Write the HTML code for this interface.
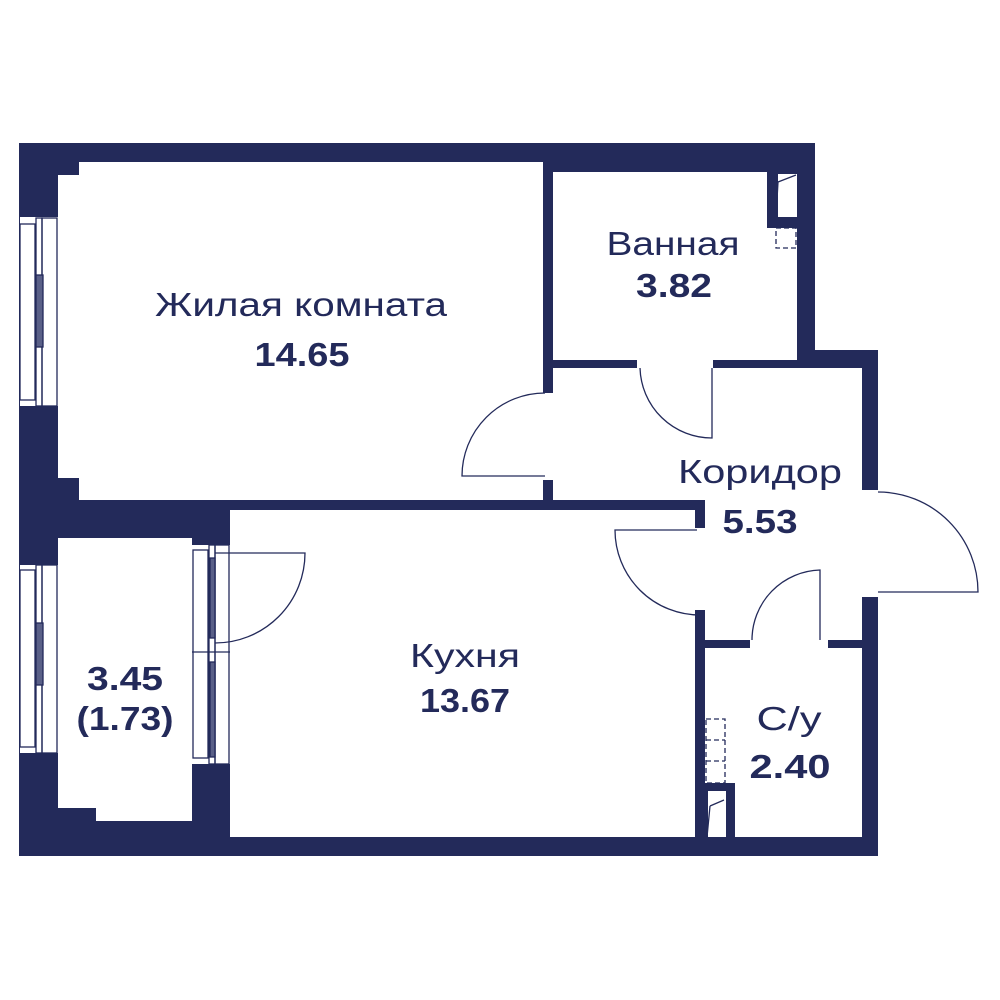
<!DOCTYPE html>
<html><head><meta charset="utf-8"><style>html,body{margin:0;padding:0;background:#fff}svg{display:block}
.t{font-family:"Liberation Sans","DejaVu Sans",sans-serif;fill:#232a5a;font-size:33px}
.b{font-weight:bold}</style></head><body>
<svg width="1000" height="1000" viewBox="0 0 1000 1000" xmlns="http://www.w3.org/2000/svg">
<g fill="#232a5a">
<path d="M19 143 H815 V350 H878 V490 H862 V597 H878 V856 H19 Z"/>
</g>
<g fill="#fff">
<!-- living -->
<path d="M79 162 H543 V500 H79 V478 H58 V175 H79 Z"/>
<!-- living door opening -->
<rect x="543" y="393" width="10" height="87"/>
<!-- bath -->
<rect x="553" y="172" width="244" height="188"/>
<rect x="637" y="358" width="76" height="12"/>
<!-- corridor -->
<path d="M553 368 H862 V640 H828 V648 H750 V640 H705 V610 H695 V528 H705 V510 H553 Z"/>
<rect x="553" y="368" width="0" height="0"/>
<rect x="860" y="490" width="20" height="107"/>
<!-- kitchen -->
<rect x="230" y="510" width="465" height="327"/>
<rect x="690" y="528" width="15" height="82"/>
<!-- wc -->
<rect x="705" y="648" width="157" height="189"/>
<rect x="750" y="638" width="78" height="12"/>
<!-- balcony -->
<path d="M58 538 H192 V821 H96 V808 H58 Z"/>
<!-- windows -->
<rect x="20" y="217" width="38" height="189"/>
<rect x="20" y="565" width="38" height="188"/>
<rect x="192" y="545" width="38" height="219"/>
</g>
<!-- restore some walls -->
<g fill="#232a5a">
<rect x="543" y="480" width="10" height="20"/>
<rect x="553" y="500" width="152" height="10"/>
<rect x="695" y="510" width="10" height="18"/>
<rect x="695" y="610" width="10" height="227"/>
<rect x="705" y="640" width="45" height="8"/>
<rect x="828" y="640" width="34" height="8"/>
<rect x="767" y="172" width="30" height="56"/>
<rect x="705" y="783" width="30" height="54"/>
</g>
<g fill="#fff"><rect x="778" y="174" width="19" height="43"/><rect x="708" y="791" width="18" height="46"/></g>
<g fill="none" stroke="#232a5a" stroke-width="1.3">
<path d="M778 182 L796 175 M778 182 L776 217"/>
<path d="M710 806 L724 800 M710 806 L707 837"/>
<rect x="776" y="228" width="20" height="20" stroke-dasharray="5,3"/>
<rect x="706" y="719" width="19" height="64" stroke-dasharray="5,3"/>
<path d="M706 740 H725 M706 761 H725" stroke-dasharray="5,3"/>
<!-- windows -->
<rect x="20" y="224" width="15" height="176"/><rect x="36" y="218" width="6" height="188"/><rect x="42" y="218" width="15" height="188"/>
<rect x="36" y="275" width="7" height="72" fill="#5a6088"/>
<rect x="20" y="570" width="15" height="177"/><rect x="36" y="565" width="6" height="188"/><rect x="42" y="565" width="15" height="188"/>
<rect x="36" y="623" width="7" height="62" fill="#5a6088"/>
<rect x="193" y="550" width="15" height="208"/><rect x="209" y="545" width="6" height="219"/><rect x="215" y="545" width="14" height="219"/>
<rect x="210" y="558" width="5" height="80" fill="#5a6088"/><rect x="210" y="662" width="5" height="95" fill="#5a6088"/>
<path d="M192 652 H230"/>
<!-- doors -->
<path d="M215 553 H305 A90 90 0 0 1 215 643"/>
<path d="M545 476 H462 A83 83 0 0 1 545 393"/>
<path d="M712 368 V438 A72 72 0 0 1 640 368"/>
<path d="M697 530 H615 A85 85 0 0 0 700 615"/>
<path d="M878 592 H978 A100 100 0 0 0 878 492"/>
<path d="M820 640 V570 A70 70 0 0 0 752 640"/>
</g>
<text class="t" x="301" y="316" text-anchor="middle" textLength="292" lengthAdjust="spacingAndGlyphs">Жилая комната</text>
<text class="t b" x="302" y="366" text-anchor="middle" textLength="95" lengthAdjust="spacingAndGlyphs">14.65</text>
<text class="t" x="673" y="255" text-anchor="middle" textLength="133" lengthAdjust="spacingAndGlyphs">Ванная</text>
<text class="t b" x="674" y="297" text-anchor="middle" textLength="76" lengthAdjust="spacingAndGlyphs">3.82</text>
<text class="t" x="760" y="483" text-anchor="middle" textLength="164" lengthAdjust="spacingAndGlyphs">Коридор</text>
<text class="t b" x="760" y="533" text-anchor="middle" textLength="75" lengthAdjust="spacingAndGlyphs">5.53</text>
<text class="t" x="465" y="667" text-anchor="middle" textLength="110" lengthAdjust="spacingAndGlyphs">Кухня</text>
<text class="t b" x="465" y="712" text-anchor="middle" textLength="90" lengthAdjust="spacingAndGlyphs">13.67</text>
<text class="t b" x="125" y="690" text-anchor="middle" textLength="76" lengthAdjust="spacingAndGlyphs">3.45</text>
<text class="t b" x="125" y="730" text-anchor="middle" textLength="97" lengthAdjust="spacingAndGlyphs">(1.73)</text>
<text class="t" x="789" y="730" text-anchor="middle" textLength="65" lengthAdjust="spacingAndGlyphs">С/у</text>
<text class="t b" x="790" y="778" text-anchor="middle" textLength="81" lengthAdjust="spacingAndGlyphs">2.40</text>
</svg>
</body></html>
